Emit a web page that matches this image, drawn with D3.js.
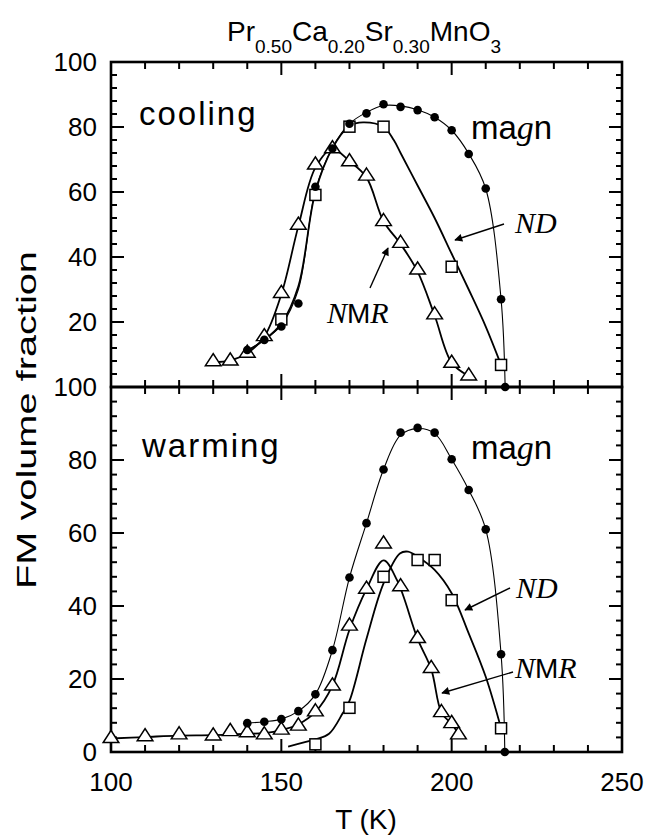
<!DOCTYPE html>
<html>
<head>
<meta charset="utf-8">
<script src="https://cdn.jsdelivr.net/npm/d3@7"></script>
<style>
  body { margin: 0; background: #fff; }
  text { font-family: "Liberation Sans", Arial, sans-serif; fill: #000; }
  .serif { font-family: "Liberation Serif", "Times New Roman", serif; font-style: italic; }
</style>
</head>
<body>
<svg id="chart" width="646" height="835"></svg>
<script>
// ---- measured points: [T (K), FM volume fraction (%)] ----
const coolMagn = [[140,11.4],[145,14.5],[150,18.6],[155,25.7],[160,61.6],[165,73.4],[170,81],[175,84.2],[180,87],[185,86.2],[190,85.2],[195,83],[200,79],[205,71.7],[210,61.1],[214.5,27],[215.7,0]];
const coolND   = [[150,20.8],[160,59.1],[170,80.1],[180,80.1],[200,37],[214.5,6.8]];
const coolNMR  = [[130,7.8],[135,8],[140,10.4],[145,15.5],[150,28.8],[155,49.8],[160,68.3],[165,73.3],[170,69.3],[175,64.9],[180,50.9],[185,44.2],[190,36],[195,22.2],[200,7.3],[205,3.4]];

const warmMagn = [[140,7.9],[145,8.3],[150,9],[155,11.2],[160,15.8],[165,27.9],[170,47.8],[175,62.7],[180,77.4],[185,87.5],[190,88.8],[195,87.5],[200,80.2],[205,71.8],[210,61],[214.5,26.8],[215.6,0]];
const warmND   = [[160,2.1],[170,12.1],[180,48],[190,52.6],[195,52.6],[200,41.6],[214.5,6.5]];
const warmNMR  = [[100,3.7],[110,4.2],[120,4.7],[130,4.4],[135,5.6],[140,5.3],[145,4.7],[150,6],[155,7.1],[160,11],[165,18.1],[170,34.5],[175,44.6],[180,57],[185,45.3],[190,31.1],[194,22.9],[197,10.8],[200,7.8],[202,4.7]];

// ---- guide-to-the-eye curves ----
const coolMagnFit = [[140,11.2],[145,14.5],[150,19],[155,30],[160,60.5],[165,73.6],[170,81],[175,84.5],[180,86.6],[185,86.5],[190,85.3],[195,83],[200,79],[205,71.8],[210,61],[214.5,27],[215.7,0]];
const coolNDFit   = [[140,11.2],[145,14.5],[150,19.5],[155,31],[160,60],[165,73.5],[170,80.3],[174,81.4],[180,80],[183,76],[185,72],[190,62],[195,52],[200,41],[205,30],[210,18.6],[214.5,6.8]];
const coolNMRFit  = [[130,7.6],[135,8.2],[140,10.4],[145,15.5],[150,28.5],[155,49.5],[160,67.5],[165,73.2],[170,69.5],[175,64.5],[180,51],[185,44],[190,35.5],[195,22],[200,7.5],[205,3.4]];

const warmMagnFit = [[140,7.9],[145,8.3],[150,9],[155,11.2],[160,15.8],[165,27.9],[170,47.8],[175,62.7],[180,77.4],[185,86.8],[190,88.6],[195,87.3],[200,80.2],[205,71.8],[210,61],[214.5,26.8],[215.6,0]];
const warmNDFit   = [[152,1.5],[160,3.5],[164,5],[168,10.6],[170,14],[175,31],[180,46.2],[184.8,54.4],[187.2,54.9],[190,53.5],[195,49.9],[200,43.5],[205,32.5],[210,20.6],[214.5,6.5]];
const warmNMRFit  = [[100,3.7],[110,4.1],[120,4.5],[130,4.6],[140,5],[145,5.2],[150,6],[155,7.6],[160,11],[165,18.2],[170,33.5],[175,44.6],[180,52.5],[184,47],[190,31],[194,22.7],[197,10.8],[200,7.7],[202,5]];

// ---- axis ticks ----
const tempTicks  = [100, 150, 200, 250];
const fracTicks  = [0, 20, 40, 60, 80, 100];

const svg = d3.select("#chart");

const x = d3.scaleLinear().domain([100, 250]).range([111, 622]);
const yTop = d3.scaleLinear().domain([0, 100]).range([387, 62]);
const yBot = d3.scaleLinear().domain([0, 100]).range([752, 387]);

// ---- frames and tick marks ----
function panelTicks(y) {
  const g = svg.append("g");
  const [y0, y1] = y.range();
  const left = x.range()[0], right = x.range()[1];
  // ticks along T, pointing inward from top and bottom edges
  d3.range(100, 251, 10).forEach(t => {
    const major = t % 50 === 0;
    const len = major ? 13 : 7;
    g.append("line").attr("x1", x(t)).attr("x2", x(t)).attr("y1", y1).attr("y2", y1 + len)
      .attr("stroke", "#000").attr("stroke-width", 2);
    g.append("line").attr("x1", x(t)).attr("x2", x(t)).attr("y1", y0).attr("y2", y0 - len)
      .attr("stroke", "#000").attr("stroke-width", 2);
  });
  // ticks along fraction, pointing inward from left and right edges
  d3.range(0, 101, 4).forEach(v => {
    const major = v % 20 === 0;
    const len = major ? 13 : 6;
    g.append("line").attr("x1", left).attr("x2", left + len).attr("y1", y(v)).attr("y2", y(v))
      .attr("stroke", "#000").attr("stroke-width", 2);
    g.append("line").attr("x1", right).attr("x2", right - len).attr("y1", y(v)).attr("y2", y(v))
      .attr("stroke", "#000").attr("stroke-width", 2);
  });
  g.append("rect").attr("x", left).attr("y", y1).attr("width", right - left).attr("height", y0 - y1)
    .attr("fill", "none").attr("stroke", "#000").attr("stroke-width", 2.6);
}
panelTicks(yTop);
panelTicks(yBot);

// fraction tick labels (the shared edge carries the lower panel's 100)
fracTicks.filter(v => v > 0).forEach(v => {
  svg.append("text").attr("x", 97).attr("y", yTop(v)).attr("dy", "0.36em")
    .attr("text-anchor", "end").attr("font-size", 26).text(v);
});
fracTicks.forEach(v => {
  if (v === 100) return;
  svg.append("text").attr("x", 97).attr("y", yBot(v)).attr("dy", "0.36em")
    .attr("text-anchor", "end").attr("font-size", 26).text(v);
});
svg.append("text").attr("x", 97).attr("y", yBot(100)).attr("dy", "0.36em")
  .attr("text-anchor", "end").attr("font-size", 26).text(fracTicks[fracTicks.length - 1]);

// temperature tick labels
tempTicks.forEach(t => {
  svg.append("text").attr("x", x(t)).attr("y", 791)
    .attr("text-anchor", "middle").attr("font-size", 26).text(t);
});

// axis titles
svg.append("text").attr("x", 366).attr("y", 829).attr("text-anchor", "middle")
  .attr("font-size", 28).text("T (K)");
svg.append("text")
  .attr("transform", "translate(36,420) rotate(-90)")
  .attr("text-anchor", "middle").attr("font-size", 27)
  .attr("textLength", 338).attr("lengthAdjust", "spacingAndGlyphs")
  .text("FM volume fraction");

// formula title
const title = svg.append("text").attr("x", 227).attr("y", 41).attr("font-size", 28);
[["Pr", false], ["0.50", true], ["Ca", false], ["0.20", true], ["Sr", false], ["0.30", true], ["MnO", false], ["3", true]]
  .forEach(([s, sub], i, arr) => {
    const prevSub = i > 0 && arr[i - 1][1];
    const ts = title.append("tspan").text(s);
    if (sub) ts.attr("font-size", 19).attr("dy", 12);
    else if (prevSub) ts.attr("dy", -12);
  });

// ---- curves ----
const lineTop = d3.line().x(d => x(d[0])).y(d => yTop(d[1])).curve(d3.curveCatmullRom.alpha(0.5));
const lineBot = d3.line().x(d => x(d[0])).y(d => yBot(d[1])).curve(d3.curveCatmullRom.alpha(0.5));

function curve(data, gen, w) {
  svg.append("path").attr("d", gen(data)).attr("fill", "none").attr("stroke", "#000").attr("stroke-width", w);
}
curve(coolMagnFit, lineTop, 1.1);
curve(coolNDFit, lineTop, 1.8);
curve(coolNMRFit, lineTop, 1.8);
curve(warmMagnFit, lineBot, 1.1);
curve(warmNDFit, lineBot, 1.8);
curve(warmNMRFit, lineBot, 1.8);

// ---- markers ----
function circles(data, y) {
  svg.append("g").selectAll("circle").data(data).join("circle")
    .attr("cx", d => x(d[0])).attr("cy", d => y(d[1])).attr("r", 4.3).attr("fill", "#000");
}
function squares(data, y) {
  const s = 11;
  svg.append("g").selectAll("rect").data(data).join("rect")
    .attr("x", d => x(d[0]) - s / 2).attr("y", d => y(d[1]) - s / 2)
    .attr("width", s).attr("height", s)
    .attr("fill", "#fff").attr("stroke", "#000").attr("stroke-width", 1.5);
}
const tri = d3.symbol().type(d3.symbolTriangle).size(85);
function triangles(data, y) {
  svg.append("g").selectAll("path").data(data).join("path")
    .attr("d", tri)
    .attr("transform", d => `translate(${x(d[0])},${y(d[1])}) scale(1.12,1)`)
    .attr("fill", "#fff").attr("stroke", "#000").attr("stroke-width", 1.4);
}
triangles(coolNMR, yTop);
squares(coolND, yTop);
circles(coolMagn, yTop);
triangles(warmNMR, yBot);
squares(warmND, yBot);
circles(warmMagn, yBot);

// ---- annotations ----
svg.append("text").attr("x", 139).attr("y", 125).attr("font-size", 33).attr("letter-spacing", 2).text("cooling");
svg.append("text").attr("x", 142).attr("y", 457).attr("font-size", 33).attr("letter-spacing", 2).text("warming");

function magnLabel(xp, yp) {
  const t = svg.append("text").attr("x", xp).attr("y", yp).attr("font-size", 33);
  t.append("tspan").text("ma");
  t.append("tspan").attr("class", "serif").attr("font-size", 34).text("g");
  t.append("tspan").text("n");
}
magnLabel(471, 139);
magnLabel(471, 459);

function ndLabel(xp, yp) {
  svg.append("text").attr("class", "serif").attr("x", xp).attr("y", yp).attr("font-size", 30).text("ND");
}
function nmrLabel(xp, yp) {
  const t = svg.append("text").attr("x", xp).attr("y", yp).attr("font-size", 30);
  t.append("tspan").attr("class", "serif").text("N");
  t.append("tspan").attr("font-size", 28).text("M");
  t.append("tspan").attr("class", "serif").text("R");
}
ndLabel(515, 233);
nmrLabel(327, 323);
ndLabel(516, 598);
nmrLabel(515, 678);

// arrows
svg.append("defs").append("marker").attr("id", "head")
  .attr("viewBox", "0 0 10 10").attr("refX", 9).attr("refY", 5)
  .attr("markerWidth", 11).attr("markerHeight", 8).attr("markerUnits", "userSpaceOnUse")
  .attr("orient", "auto")
  .append("path").attr("d", "M0,0 L10,5 L0,10 z").attr("fill", "#000");

function arrow(x1, y1, x2, y2) {
  svg.append("line").attr("x1", x1).attr("y1", y1).attr("x2", x2).attr("y2", y2)
    .attr("stroke", "#000").attr("stroke-width", 1.4).attr("marker-end", "url(#head)");
}
arrow(504, 224, 455, 240);
arrow(370, 288, 388, 248);
arrow(510, 588, 465, 610);
arrow(513, 672, 442, 693);
</script>
</body>
</html>
